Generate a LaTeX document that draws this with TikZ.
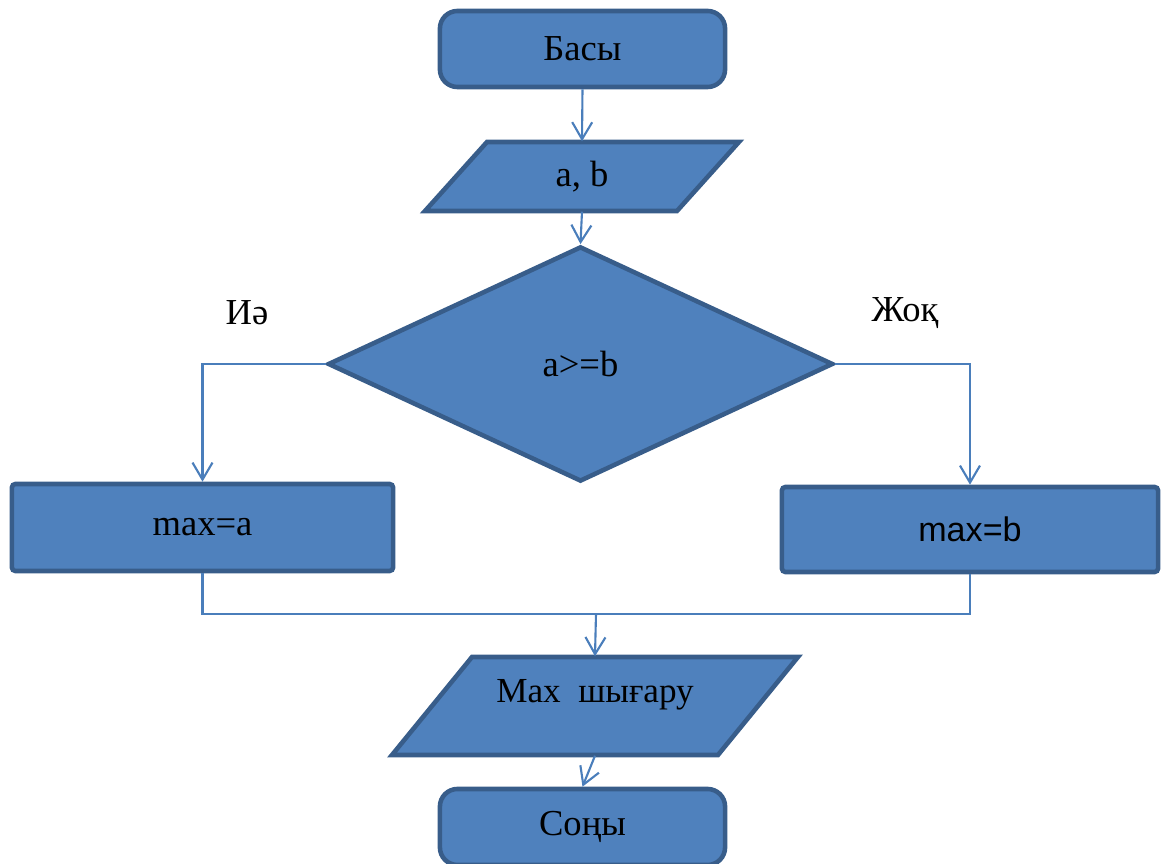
\documentclass[tikz,border=0pt]{standalone}
\usepackage{fontspec}
\setmainfont{Liberation Serif}
\newfontfamily\arialfont{Liberation Sans}
\usetikzlibrary{shapes.geometric,arrows.meta}
\definecolor{boxfill}{HTML}{4F81BD}
\definecolor{boxline}{HTML}{385D8A}
\definecolor{linkblue}{HTML}{4A7EBB}
\begin{document}
\begin{tikzpicture}[x=0.01cm, y=-0.01cm, font=\fontsize{10.4}{12}\selectfont,
        block/.style={draw=boxline, fill=boxfill, line width=1.3pt, inner sep=0pt},
        iobox/.style={inner sep=0pt},
        wire/.style={draw=linkblue, line width=0.6pt},
        link/.style={wire, -{Straight Barb[length=1.7mm,width=2mm]}}]
        \useasboundingbox (0,0) rectangle (1162,864);
        % parallelograms
        \filldraw[block] (425,211) -- (487,142) -- (739,142) -- (677,211) -- cycle;
        \filldraw[block] (392,755) -- (472,657) -- (798,657) -- (718,755) -- cycle;
        % blocks
        \node[block, rounded corners=5pt, minimum width=2.85cm, minimum height=0.76cm] (start) at (582.5,49) {Басы};
        \node[iobox, minimum width=2.52cm, minimum height=0.69cm] (ab) at (582,176.5) {a, b};
        \node[block, diamond, minimum width=5.05cm, minimum height=2.35cm] (test) at (580.5,364) {a>=b};
        \node[block, rounded corners=1pt, minimum width=3.81cm, minimum height=0.87cm] (left) at (202.5,527.5) {max=a};
        \node[block, rounded corners=1pt, minimum width=3.76cm, minimum height=0.85cm,
                font=\arialfont\fontsize{9.7}{12}\selectfont] (right) at (970,529.5) {max=b};
        \node[iobox, minimum width=3.26cm, minimum height=0.98cm, text height=0pt, text depth=2pt,
                font=\fontsize{10}{12}\selectfont] (out) at (595,706) {Мах\ \ шығару};
        \node[block, rounded corners=5pt, minimum width=2.85cm, minimum height=0.76cm] (stop) at (582.5,827) {Соңы};
        \node (yes) at (247,313) {Иә};
        \node (no) at (905,313) {Жоқ};
        % connectors
        \coordinate (merge) at (596,614);
        \draw[link] (start.south) -- (ab.north);
        \draw[link] (ab.south) -- (test.north);
        \draw[link] (test.west) -| (left.north);
        \draw[link] (test.east) -| (right.north);
        \draw[wire] (left.south) |- (merge) -| (right.south);
        \draw[link] (merge) -- (out.north);
        \draw[link] (out.south) -- (stop.north);
\end{tikzpicture}
\end{document}
